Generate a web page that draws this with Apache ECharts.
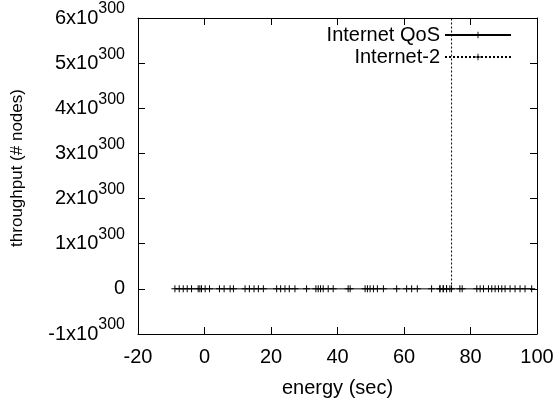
<!DOCTYPE html>
<html>
<head>
<meta charset="utf-8">
<script src="https://cdn.jsdelivr.net/npm/echarts@6/dist/echarts.min.js"></script>
<style>
  html, body { margin: 0; padding: 0; background: #fff; }
  #chart { width: 558px; height: 398px; }
</style>
</head>
<body>
<div id="chart"></div>
<script>
// y values are in units of 10^300
var xTicks = [-20, 0, 20, 40, 60, 80, 100];
var yTicks = [-1, 0, 1, 2, 3, 4, 5, 6];

var qosX = [-8.9, -7.6, -6.4, -5.2, -3.9, -1.9, -1.4, -0.9, 0.2, 1.5, 4.5, 5.9, 7.7, 8.7,
	12.2, 13.5, 14.9, 16.2, 17.7, 21.7, 22.9, 24.2, 25.5, 27.2, 30.7, 33.5, 34.2, 34.9,
	35.7, 37.2, 38.7, 43.2, 43.8, 48.3, 49.0, 49.8, 50.8, 52.0, 53.8, 57.8, 60.8, 62.3,
	64.0, 68.3, 70.8, 71.8, 72.8, 73.8, 76.8, 77.5, 81.9, 82.9, 83.9, 85.4, 86.4, 87.4,
	88.4, 89.4, 90.4, 91.9, 93.4, 94.9, 96.4, 98.4];
var qosY = qosX.map(function() { return 0; });

var internet2X = [70.8, 71.8, 72.8, 74.3, 74.3];
var internet2Y = [0, 0, 0, 0, 100];

var plus = 'path://M3,0H4V3H7V4H4V7H3V4H0V3H3Z';

function pairs(xs, ys) {
	return xs.map(function(x, i) { return [x, ys[i]]; });
}

var myChart = echarts.init(document.getElementById('chart'));

var font = 'Liberation Sans, Arial, Helvetica, sans-serif';
var black = '#000';

// gnuplot style box: ticks inside, mirrored on top and right
var boxLine = {onZero: false, show: true, lineStyle: {color: black, width: 1}};
var boxTick = {show: true, inside: true, length: 7, lineStyle: {color: black}};

var option = {
	animation: false,
	textStyle: {fontFamily: font, color: black},
	grid: {left: 138, right: 21, top: 18, bottom: 64, containLabel: false, outerBoundsMode: 'none'},
	legend: {
		orient: 'vertical',
		right: 41,
		top: 20,
		align: 'right',
		itemWidth: 66,
		itemHeight: 8,
		itemGap: 2,
		textStyle: {fontSize: 20, color: black, fontFamily: font},
		data: ['Internet QoS', 'Internet-2']
	},
	xAxis: [
		{
			type: 'value', min: xTicks[0], max: xTicks[xTicks.length - 1], interval: 20,
			name: 'energy (sec)', nameLocation: 'middle', nameGap: 44,
			nameTextStyle: {fontSize: 20, color: black},
			axisLine: boxLine,
			axisTick: boxTick,
			axisLabel: {fontSize: 20, color: black, margin: 13},
			splitLine: {show: false}
		},
		{
			type: 'value', position: 'top', min: xTicks[0], max: xTicks[xTicks.length - 1], interval: 20,
			axisLine: boxLine,
			axisTick: boxTick,
			axisLabel: {show: false},
			splitLine: {show: false}
		}
	],
	yAxis: [
		{
			type: 'value', min: yTicks[0], max: yTicks[yTicks.length - 1], interval: 1,
			name: 'throughput (# nodes)', nameLocation: 'middle', nameGap: 112,
			nameTextStyle: {fontSize: 17, color: black, padding: [0, 0, 0, 16]},
			axisLine: boxLine,
			axisTick: boxTick,
			axisLabel: {
				fontSize: 20, color: black, margin: 13,
				formatter: function(v) {
					return v === 0 ? '0' : v + 'x10{sup|300}';
				},
				rich: {
					sup: {fontSize: 16, color: black, fontFamily: font, verticalAlign: 'bottom', padding: [0, 0, 18, 0]}
				}
			},
			splitLine: {show: false}
		},
		{
			type: 'value', position: 'right', min: yTicks[0], max: yTicks[yTicks.length - 1], interval: 1,
			axisLine: boxLine,
			axisTick: boxTick,
			axisLabel: {show: false},
			splitLine: {show: false}
		}
	],
	series: [
		{
			name: 'Internet QoS',
			type: 'line',
			data: pairs(qosX, qosY),
			symbol: plus, symbolSize: 7,
			itemStyle: {color: black},
			lineStyle: {color: black, width: 1}
		},
		{
			name: 'Internet-2',
			type: 'line',
			data: pairs(internet2X, internet2Y),
			symbol: plus, symbolSize: 7,
			clip: true,
			itemStyle: {color: black},
			lineStyle: {color: black, width: 1, type: [2, 2]}
		}
	]
};
myChart.setOption(option);
</script>
</body>
</html>
